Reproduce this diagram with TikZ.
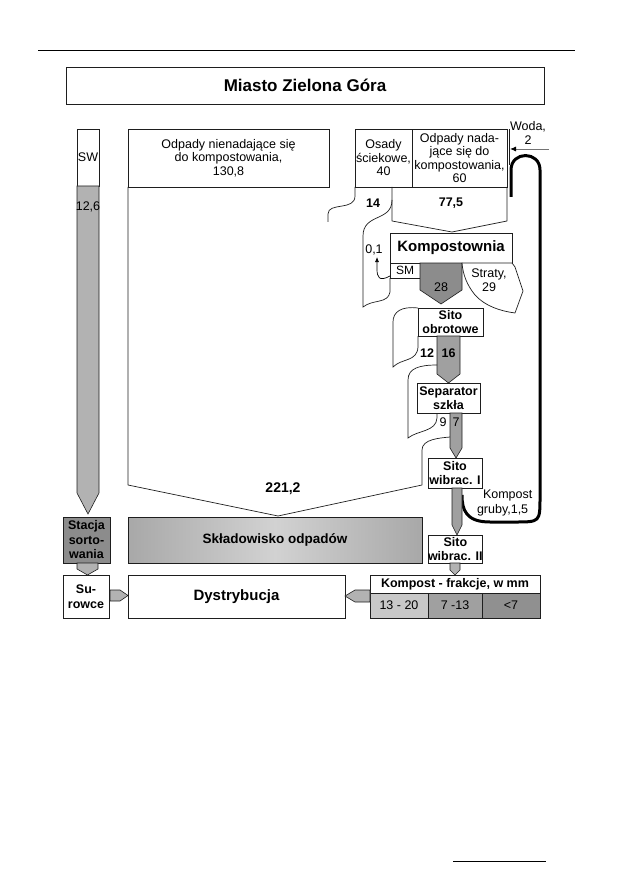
\documentclass[tikz,border=0pt]{standalone}
\usepackage{fontspec}
\setmainfont{Liberation Sans}
\usetikzlibrary{arrows.meta}
\definecolor{colA}{RGB}{178,178,178}
\definecolor{colDark}{RGB}{140,140,140}
\definecolor{colMid}{RGB}{160,160,160}
\definecolor{colSkl}{RGB}{168,168,168}
\definecolor{colLight}{RGB}{200,200,200}
\definecolor{colStripe}{RGB}{210,210,210}
\definecolor{linec}{RGB}{30,30,30}
\begin{document}
\begin{tikzpicture}[x=1pt,y=-1pt,
  every node/.style={inner sep=0pt, outer sep=0pt},
  box/.style={draw=linec, line width=0.7pt, fill=white, align=center, anchor=north west, font=\fontsize{12.5}{13.5}\selectfont},
  bbox/.style={box, font=\bfseries\fontsize{12.5}{13.5}\selectfont},
  lbl/.style={font=\fontsize{12.5}{13.5}\selectfont, align=center},
  blbl/.style={font=\bfseries\fontsize{12.5}{13.5}\selectfont, align=center},
  ln/.style={draw=linec, line width=0.7pt},
  pencil/.style={draw=linec, line width=0.6pt},
]
\useasboundingbox (0,0) rectangle (630,893);
% page rules
\coordinate (r1a) at (38,50); \coordinate (r1b) at (575,50);
\draw[line width=0.8pt] (r1a) -- (r1b);
\coordinate (r2a) at (453,861); \coordinate (r2b) at (546,861);
\draw[line width=0.8pt] (r2a) -- (r2b);

% title
\node[bbox, minimum width=478, minimum height=37, font=\bfseries\fontsize{17}{19}\selectfont] (title) at (66,67) {Miasto Zielona Góra};

% recirculation loop (behind)
\draw[line width=3pt, line join=round] (511,197) -- (511,170) .. controls (511,150.7) and (540,150.7) .. (540,170) -- (540,497) .. controls (540,522) .. (515,522) -- (490,522) .. controls (466,522) and (462,510) .. (462,495);
\node[lbl, anchor=west] (kg) at (483,495) {Kompost};
\node[lbl, anchor=west] (kg2) at (477,510) {gruby,1,5};

% big flow to landfill
\draw[ln, line join=round] (128,187) -- (128,485) -- (278,516) -- (422,485) -- (422,450) .. controls (422,439) and (440,438) .. (450,437);
\node[blbl, font=\bfseries\fontsize{14}{15}\selectfont] (v2212) at (283,489) {221,2};

% SW column
\node[box, minimum width=22, minimum height=57] (sw) at (77,129) {SW};
\path[pencil, fill=colA] (77,186) -- (99,186) -- (99,493) -- (88,514) -- (77,493) -- cycle;
\node[lbl] (v126) at (88,207) {12,6};

% input boxes
\node[box, minimum width=201, minimum height=58] (nien) at (128,129) {Odpady nienadające się\\do kompostowania,\\130,8};
\node[box, minimum width=57, minimum height=58] (osady) at (355,129) {Osady\\ściekowe,\\40};
\node[box, minimum width=95, minimum height=58] (nada) at (412,129) {Odpady nada-\\jące się do\\kompostowania,\\60};
\draw[ln] (509.5,129) -- (509.5,165);

% water
\node[lbl] (woda) at (528,133) {Woda,\\2};
\coordinate (wstart) at (549,149);
\coordinate (wend) at (510,149);
\draw[draw=black!55, line width=0.9pt, -{Latex[length=6pt,width=5pt,black]}] (wstart) -- (wend);

% 14 outflow and 77,5 band
\draw[ln] (355,187) -- (355,196) .. controls (355,211) and (328,202) .. (328,214) -- (328,222);
\draw[ln, line join=round] (392,187) -- (392,221) -- (452,232) -- (507,221) -- (507,187);
\node[blbl] (v14) at (373,203) {14};
\node[blbl] (v775) at (451,203) {77,5};

% 0,1 region
\draw[ln] (392,200) .. controls (392,222) and (363,213) .. (363,236) -- (363,307) .. controls (373,299) and (388,304) .. (390,292) -- (390,278);
\node[lbl] (v01) at (374,250) {0,1};

% Kompostownia
\node[bbox, minimum width=122, minimum height=30, font=\bfseries\fontsize{15}{16}\selectfont] (komp) at (390,233) {Kompostownia};
\node[box, minimum width=30, minimum height=15, font=\fontsize{12}{13}\selectfont] (sm) at (390,263) {SM};
\draw[line width=0.7pt, -{Latex[length=5pt,width=4pt]}] (390,276) .. controls (379,282) and (377,277) .. (377,269) -- (377,257);
\path[pencil, fill=colDark] (420,263) -- (462,263) -- (462,290) -- (441,304) -- (420,290) -- cycle;
\node[lbl] (v28) at (441,287) {28};
\path[ln, fill=white, line join=round] (462,263) -- (512,263) -- (515,267) -- (523,291) -- (515,313) .. controls (500,311) and (485,306) .. (475,295) .. controls (467,285) and (463,275) .. (462,263) -- cycle;
\node[lbl] (straty) at (489,280) {Straty,\\29};

% Sito obrotowe
\draw[ln] (418,308) .. controls (401,306) and (393,312) .. (393,322) -- (393,367) .. controls (402,358) and (417,362) .. (418,347) -- (418,336);
\node[bbox, minimum width=65, minimum height=28] (obr) at (418,308) {Sito\\obrotowe};
\path[pencil, fill=colMid] (437,336) -- (460,336) -- (460,374) -- (448.5,383) -- (437,374) -- cycle;
\node[blbl] (v12) at (427,353) {12};
\node[blbl] (v16) at (448.5,353) {16};

% Separator
\draw[ln] (437,365) .. controls (420,365) and (408,368) .. (408,380) -- (408,438) .. controls (418,430) and (436,432) .. (437,418) -- (437,413);
\node[bbox, minimum width=63, minimum height=30] (sep) at (417,383) {Separator\\szkła};
\path[pencil, fill=colMid] (450,413) -- (462,413) -- (462,448) -- (456,458) -- (450,448) -- cycle;
\node[lbl] (v9) at (443,422) {9};
\node[lbl] (v7) at (456,422) {7};

% Sito wibrac I and II
\node[bbox, minimum width=54, minimum height=30] (wib1) at (428,458) {Sito\\wibrac. I};
\path[pencil, fill=colMid] (452,488) -- (462,488) -- (462,525) -- (457,535) -- (452,525) -- cycle;
\node[bbox, minimum width=54, minimum height=28] (wib2) at (428,535) {Sito\\wibrac. II};
\path[pencil, fill=colA] (450,563) -- (460,563) -- (460,570) -- (455,575) -- (450,570) -- cycle;

% landfill and sorting
\node[bbox, minimum width=294, minimum height=46, left color=colSkl, right color=colSkl, middle color=colStripe, font=\bfseries\fontsize{13.5}{14.5}\selectfont] (skl) at (128,517) {Składowisko odpadów};
\node[bbox, minimum width=47, minimum height=46, fill=colDark, font=\bfseries\fontsize{12.5}{14.5}\selectfont] (stacja) at (63,517) {Stacja\\sorto-\\wania};
\path[pencil, fill=colA] (77,563) -- (98,563) -- (98,569) -- (87.5,575) -- (77,569) -- cycle;

% bottom row
\node[bbox, minimum width=46, minimum height=43, font=\bfseries\fontsize{12.5}{15}\selectfont] (sur) at (63,575) {Su-\\rowce};
\node[bbox, minimum width=217, minimum height=43, font=\bfseries\fontsize{15}{16}\selectfont] (dys) at (128,575) {Dystrybucja};
\node[bbox, minimum width=170, minimum height=18] (kfr) at (370,575) {Kompost - frakcje, w mm};
\node[box, minimum width=58, minimum height=25, fill=colLight] (c1) at (370,593) {13 - 20};
\node[box, minimum width=54, minimum height=25, fill=colMid] (c2) at (428,593) {7 -13};
\node[box, minimum width=58, minimum height=25, fill=colMid!90!black] (c3) at (482,593) {<7};
\path[pencil, fill=colA] (110,590) -- (120,590) -- (128,595.5) -- (120,601) -- (110,601) -- cycle;
\path[pencil, fill=colA] (370,590) -- (355,590) -- (345,596) -- (355,602) -- (370,602) -- cycle;
\end{tikzpicture}
\end{document}
